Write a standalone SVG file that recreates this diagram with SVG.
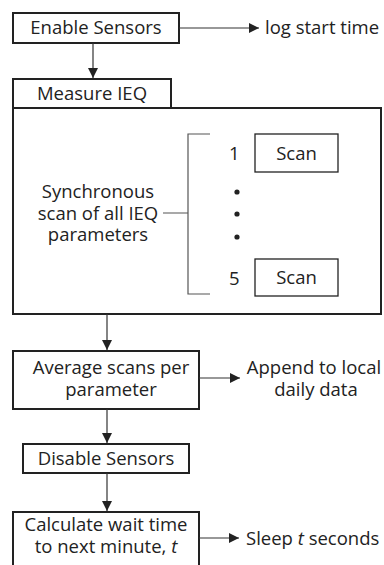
<svg xmlns="http://www.w3.org/2000/svg" width="384" height="565" viewBox="0 0 384 565">
<defs>
<marker id="ah" viewBox="0 0 10 10" refX="10" refY="5" markerWidth="10" markerHeight="10" markerUnits="userSpaceOnUse" orient="auto">
<path d="M0,0 L10,5 L0,10 z" fill="#222"/>
</marker>
<style>
.box{fill:#fff;stroke:#222;stroke-width:2}
.sbox{fill:#fff;stroke:#222;stroke-width:1.3}
.t{font-family:"Open Sans","Liberation Sans",sans-serif;font-size:18.5px;fill:#222}
.c{text-anchor:middle}
.ln{fill:none;stroke:#333;stroke-width:1.2}
.br{fill:none;stroke:#555;stroke-width:1.2}
</style>
</defs>
<rect width="384" height="565" fill="#fff"/>
<g id="enable">
<rect class="box" x="13" y="13" width="166" height="30"/>
<text class="t c" x="96" y="34">Enable Sensors</text>
</g>
<g id="logstart">
<text class="t" x="265" y="34">log start time</text>
</g>
<g id="measure">
<rect class="box" x="13" y="108" width="368" height="206"/>
<rect class="box" x="13" y="79" width="158" height="29"/>
<text class="t c" x="92" y="100">Measure IEQ</text>
</g>
<g id="sync">
<text class="t c" x="98" y="198">Synchronous</text>
<text class="t c" x="98" y="219.5">scan of all IEQ</text>
<text class="t c" x="98" y="241">parameters</text>
</g>
<g id="scan1">
<text class="t" x="229" y="160">1</text>
<rect class="sbox" x="255" y="134" width="83" height="38"/>
<text class="t c" x="296.5" y="160">Scan</text>
</g>
<g id="dots">
<circle cx="237" cy="192" r="2.6" fill="#222"/>
<circle cx="237" cy="214" r="2.6" fill="#222"/>
<circle cx="237" cy="237" r="2.6" fill="#222"/>
</g>
<g id="scan5">
<text class="t" x="229" y="285">5</text>
<rect class="sbox" x="255" y="259" width="83" height="37"/>
<text class="t c" x="296.5" y="284">Scan</text>
</g>
<g id="average">
<rect class="box" x="13" y="351" width="186" height="58"/>
<text class="t c" x="111" y="374">Average scans per</text>
<text class="t c" x="111" y="396">parameter</text>
</g>
<g id="append">
<text class="t c" x="314" y="374">Append to local</text>
<text class="t c" x="316" y="396">daily data</text>
</g>
<g id="disable">
<rect class="box" x="23" y="444" width="166" height="29"/>
<text class="t c" x="106" y="465">Disable Sensors</text>
</g>
<g id="calc">
<rect class="box" x="13" y="512" width="186" height="60"/>
<text class="t c" x="106" y="531">Calculate wait time</text>
<text class="t c" x="106" y="553">to next minute, <tspan font-style="italic">t</tspan></text>
</g>
<g id="sleep">
<text class="t" x="246" y="545">Sleep <tspan font-style="italic">t</tspan> seconds</text>
</g>
<g id="connectors">
<path class="ln" d="M179,28 H259" marker-end="url(#ah)"/>
<path class="ln" d="M93,43 V78" marker-end="url(#ah)"/>
<path class="ln" d="M107,314 V350" marker-end="url(#ah)"/>
<path class="ln" d="M199,378 H240" marker-end="url(#ah)"/>
<path class="ln" d="M107,409 V443" marker-end="url(#ah)"/>
<path class="ln" d="M107,473 V511" marker-end="url(#ah)"/>
<path class="ln" d="M199,538 H239" marker-end="url(#ah)"/>
<path class="br" d="M163,213 H188 M210,134 H188 V294 H210"/>
</g>
</svg>
